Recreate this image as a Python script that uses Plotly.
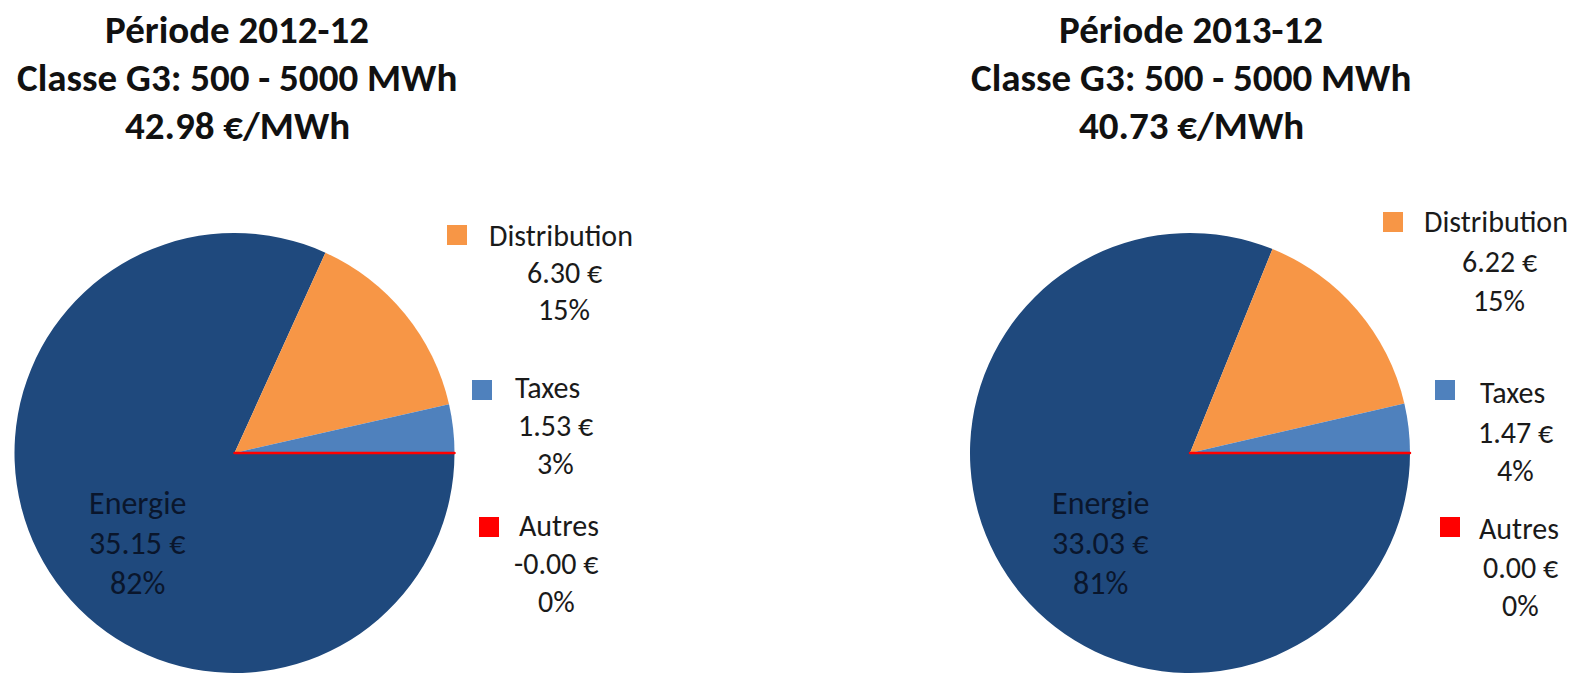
import plotly.graph_objects as go

W, H = 1576, 673

categories = ["Energie", "Distribution", "Taxes", "Autres"]
colors = ["#1F497D", "#F79646", "#4F81BD", "#FF0000"]
periods = ["2012-12", "2013-12"]
classe = "Classe G3: 500 - 5000 MWh"
totals = ["42.98 €/MWh", "40.73 €/MWh"]
values_2012 = [35.15, 6.30, 1.53, -0.0]
values_2013 = [33.03, 6.22, 1.47, 0.0]
pct_2012 = ["82%", "15%", "3%", "0%"]
pct_2013 = ["81%", "15%", "4%", "0%"]

FONT = "Carlito, Lato, sans-serif"
TXT = "#1a1a1a"


def px(x):
    return x / W


def py(y):
    return 1 - y / H


panels = [
    dict(values=values_2012, pct=pct_2012, pie_x=(14, 455), title_x=237,
         energie=(137, (503, 543, 583)),
         legend=[  # name, square cx, cy, name x, name y, value cx, y line 2, y line 3
             ("Distribution", 457, 235, 487, 235, 564, 272, 310),
             ("Taxes", 482, 390, 513, 388, 555, 425, 463),
             ("Autres", 489, 527, 517, 525, 556, 563, 601),
         ]),
    dict(values=values_2013, pct=pct_2013, pie_x=(970, 1410), title_x=1191,
         energie=(1100, (503, 543, 583)),
         legend=[
             ("Distribution", 1393, 222, 1422, 222, 1499, 262, 300),
             ("Taxes", 1445, 390, 1478, 392, 1515, 432, 470),
             ("Autres", 1450, 527, 1477, 528, 1520, 567, 605),
         ]),
]

fig = go.Figure()
annotations = []
shapes = []


def ann(x, y, text, size, anchor="center", bold=False, color=TXT):
    annotations.append(dict(
        x=px(x), y=py(y), xref="paper", yref="paper",
        xanchor=anchor, yanchor="middle", showarrow=False,
        text=f"<b>{text}</b>" if bold else text,
        font=dict(family=FONT, size=size, color=color),
    ))


for i, p in enumerate(panels):
    vals = p["values"]
    fig.add_trace(go.Pie(
        labels=categories,
        values=vals,
        sort=False,
        direction="clockwise",
        rotation=90,
        marker=dict(colors=colors,
                    line=dict(color=["#FFFFFF", "#FFFFFF", "#FFFFFF", "#FF0000"],
                              width=[0, 0, 0, 2.5])),
        textinfo="none",
        domain=dict(x=[px(p["pie_x"][0]), px(p["pie_x"][1])], y=[0, py(233)]),
        showlegend=False,
        hoverinfo="label+value+percent",
    ))
    # titles
    for line, y in zip([f"Période {periods[i]}", classe, totals[i]], (30, 77, 125)):
        ann(p["title_x"], y, line, 39, bold=True, color="#111111")
    # Energie label in the slice
    k = categories.index("Energie")
    ex, eys = p["energie"]
    for line, y in zip(["Energie", f"{vals[k]:.2f} €", p["pct"][k]], eys):
        ann(ex, y, line, 32, color="#0a162c")
    # legend
    for (name, sx, sy, nx, ny, vx, vy2, vy3) in p["legend"]:
        k = categories.index(name)
        shapes.append(dict(
            type="rect", xref="paper", yref="paper",
            x0=px(sx - 10), x1=px(sx + 10), y0=py(sy + 10), y1=py(sy - 10),
            fillcolor=colors[k], line=dict(width=0),
        ))
        ann(nx, ny, name, 30, anchor="left")
        ann(vx, vy2, f"{vals[k]:.2f} €", 30)
        ann(vx, vy3, p["pct"][k], 30)

fig.update_layout(
    width=W, height=H,
    margin=dict(l=0, r=0, t=0, b=0),
    paper_bgcolor="white",
    plot_bgcolor="white",
    annotations=annotations,
    shapes=shapes,
)

fig.write_html("out.html", config={"displayModeBar": False},
               post_script="document.body.style.margin='0';")
